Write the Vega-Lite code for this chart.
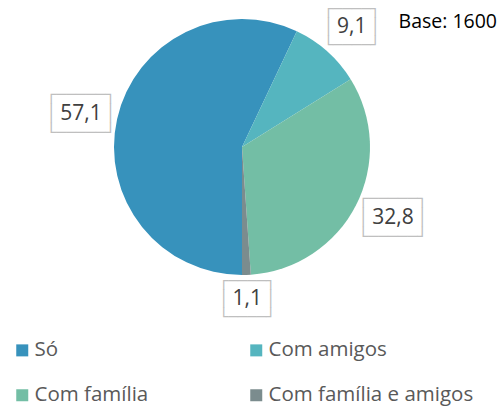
{
  "$schema": "https://vega.github.io/schema/vega-lite/v6.json",
  "width": 484,
  "height": 294,
  "autosize": {"type": "none"},
  "padding": {"left": 0, "top": 0, "right": 16, "bottom": 114},
  "background": "white",
  "title": {
    "text": "Base: 1600",
    "anchor": "end",
    "frame": "group",
    "orient": "top",
    "offset": -49,
    "baseline": "middle",
    "dx": 13,
    "font": "Open Sans",
    "fontSize": 19.5,
    "fontWeight": "normal",
    "color": "#000000"
  },
  "data": {
    "values": [
      {"categoria": "Só", "valor": 57.1, "rotulo": "57,1", "ordem": 1},
      {"categoria": "Com amigos", "valor": 9.1, "rotulo": "9,1", "ordem": 2},
      {"categoria": "Com família", "valor": 32.8, "rotulo": "32,8", "ordem": 3},
      {"categoria": "Com família e amigos", "valor": 1.1, "rotulo": "1,1", "ordem": 4}
    ]
  },
  "encoding": {
    "theta": {
      "field": "valor",
      "type": "quantitative",
      "stack": true,
      "scale": {"range": [3.14159265, 9.42477796]}
    },
    "order": {"field": "ordem", "type": "quantitative"}
  },
  "layer": [
    {
      "mark": {"type": "arc", "outerRadius": 128, "strokeWidth": 0},
      "encoding": {
        "color": {
          "field": "categoria",
          "type": "nominal",
          "scale": {
            "domain": ["Só", "Com amigos", "Com família", "Com família e amigos"],
            "range": ["#3792BC", "#55B5BF", "#73BEA5", "#7B8C8E"]
          },
          "legend": {
            "title": null,
            "orient": "none",
            "legendX": 12,
            "legendY": 340,
            "direction": "horizontal",
            "columns": 2,
            "columnPadding": 97,
            "rowPadding": 24,
            "symbolType": "square",
            "symbolSize": 144,
            "symbolStrokeWidth": 0,
            "labelFont": "Open Sans",
            "labelFontSize": 20.5,
            "labelColor": "#595959",
            "labelOffset": 2,
            "labelLimit": 300
          }
        }
      }
    },
    {
      "mark": {
        "type": "text",
        "radius": 165,
        "dy": -16,
        "font": "DejaVu Sans Mono",
        "fontSize": 16.4,
        "lineHeight": 19,
        "baseline": "middle",
        "align": "center",
        "color": "#BFBFBF"
      },
      "encoding": {
        "text": {
          "condition": {"test": "datum.ordem == 1", "value": ["┌─────┐", "│\u00a0\u00a0\u00a0\u00a0\u00a0│", "└─────┘"]},
          "value": ""
        }
      }
    },
    {
      "mark": {
        "type": "text",
        "radius": 165,
        "dx": 4,
        "dy": -23,
        "font": "DejaVu Sans Mono",
        "fontSize": 16.4,
        "lineHeight": 19,
        "baseline": "middle",
        "align": "center",
        "color": "#BFBFBF"
      },
      "encoding": {
        "text": {
          "condition": {"test": "datum.ordem == 3", "value": ["┌─────┐", "│\u00a0\u00a0\u00a0\u00a0\u00a0│", "└─────┘"]},
          "value": ""
        }
      }
    },
    {
      "mark": {
        "type": "text",
        "radius": 165,
        "dy": -15,
        "font": "DejaVu Sans Mono",
        "fontSize": 15.6,
        "lineHeight": 18,
        "baseline": "middle",
        "align": "center",
        "color": "#BFBFBF"
      },
      "encoding": {
        "text": {
          "condition": {"test": "datum.ordem == 2", "value": ["┌────┐", "│\u00a0\u00a0\u00a0\u00a0│", "└────┘"]},
          "value": ""
        }
      }
    },
    {
      "mark": {
        "type": "text",
        "radius": 152,
        "dy": -18,
        "font": "DejaVu Sans Mono",
        "fontSize": 15.6,
        "lineHeight": 18,
        "baseline": "middle",
        "align": "center",
        "color": "#BFBFBF"
      },
      "encoding": {
        "text": {
          "condition": {"test": "datum.ordem == 4", "value": ["┌────┐", "│\u00a0\u00a0\u00a0\u00a0│", "└────┘"]},
          "value": ""
        }
      }
    },
    {
      "mark": {
        "type": "text",
        "radius": 165,
        "dy": 3,
        "font": "Open Sans",
        "fontSize": 21,
        "color": "#404040"
      },
      "encoding": {
        "text": {
          "condition": {"test": "datum.ordem == 1 || datum.ordem == 2", "field": "rotulo", "type": "nominal"},
          "value": ""
        }
      }
    },
    {
      "mark": {
        "type": "text",
        "radius": 165,
        "dx": 4,
        "dy": -4,
        "font": "Open Sans",
        "fontSize": 21,
        "color": "#404040"
      },
      "encoding": {
        "text": {
          "condition": {"test": "datum.ordem == 3", "field": "rotulo", "type": "nominal"},
          "value": ""
        }
      }
    },
    {
      "mark": {
        "type": "text",
        "radius": 152,
        "font": "Open Sans",
        "fontSize": 21,
        "color": "#404040"
      },
      "encoding": {
        "text": {
          "condition": {"test": "datum.ordem == 4", "field": "rotulo", "type": "nominal"},
          "value": ""
        }
      }
    }
  ]
}
